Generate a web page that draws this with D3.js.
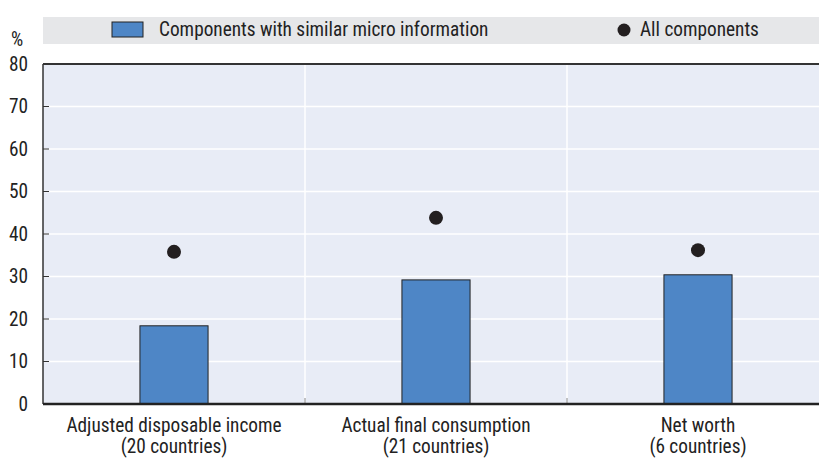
<!DOCTYPE html>
<html><head><meta charset="utf-8">
<script src="https://cdn.jsdelivr.net/npm/d3@7"></script>
<style>
body{margin:0;background:#fff;}
svg text{font-family:"Roboto Condensed","Liberation Sans",sans-serif;fill:#222;}
</style></head><body>
<svg id="c" width="819" height="458"></svg>
<script>
const categories = ["Adjusted disposable income", "Actual final consumption", "Net worth"];
const categorySub = ["(20 countries)", "(21 countries)", "(6 countries)"];
const similarMicro = [18.4, 29.2, 30.4];
const allComponents = [35.8, 43.8, 36.2];
const yTicks = [0, 10, 20, 30, 40, 50, 60, 70, 80];
const seriesNames = ["Components with similar micro information", "All components"];

const FS = 19.3;
const svg = d3.select("#c");
const m = {left: 43, right: 829, top: 64, bottom: 404};
const x = d3.scaleBand().domain(categories).range([m.left, m.right]);
const y = d3.scaleLinear().domain([0, 80]).range([m.bottom, m.top]);

// plot background
svg.append("rect").attr("x", m.left).attr("y", m.top).attr("width", m.right - m.left).attr("height", m.bottom - m.top).attr("fill", "#e8ecf6");
// horizontal gridlines
svg.append("g").selectAll("line").data(yTicks.filter(d => d > 0 && d < 80)).join("line")
  .attr("x1", m.left).attr("x2", m.right).attr("y1", d => y(d)).attr("y2", d => y(d))
  .attr("stroke", "#fff").attr("stroke-width", 1.5);
// vertical separators
svg.append("g").selectAll("line").data(categories.slice(1)).join("line")
  .attr("x1", d => x(d)).attr("x2", d => x(d)).attr("y1", m.top).attr("y2", m.bottom)
  .attr("stroke", "#fff").attr("stroke-width", 1.5);
// x separator ticks
svg.append("g").selectAll("line").data(categories.slice(1)).join("line")
  .attr("x1", d => x(d)).attr("x2", d => x(d)).attr("y1", m.bottom - 6).attr("y2", m.bottom)
  .attr("stroke", "#888").attr("stroke-width", 1);

// y axis
const yAxis = d3.axisLeft(y).tickValues(yTicks).tickSize(0).tickPadding(15);
const gy = svg.append("g").attr("transform", `translate(${m.left},0)`).call(yAxis);
gy.select(".domain").remove();
gy.selectAll("text").attr("font-size", FS).style("font-family", '"Roboto Condensed",sans-serif').attr("fill", "#222");
svg.append("g").selectAll("line").data(yTicks.filter(d => d > 0 && d < 80)).join("line")
  .attr("x1", m.left).attr("x2", m.left + 6).attr("y1", d => y(d)).attr("y2", d => y(d))
  .attr("stroke", "#333").attr("stroke-width", 1);

// bars
const bw = x.bandwidth() * 0.26;
svg.append("g").selectAll("rect").data(categories).join("rect")
  .attr("x", d => x(d) + x.bandwidth() / 2 - bw / 2)
  .attr("width", bw)
  .attr("y", (d, i) => y(similarMicro[i]))
  .attr("height", (d, i) => y(0) - y(similarMicro[i]))
  .attr("fill", "#4e86c6").attr("stroke", "#222").attr("stroke-width", 1);

// dots
svg.append("g").selectAll("circle").data(categories).join("circle")
  .attr("cx", d => x(d) + x.bandwidth() / 2)
  .attr("cy", (d, i) => y(allComponents[i]))
  .attr("r", 7).attr("fill", "#231f20");

// frame lines
svg.append("line").attr("x1", m.left).attr("x2", m.right).attr("y1", m.top).attr("y2", m.top).attr("stroke", "#333").attr("stroke-width", 2);
svg.append("line").attr("x1", m.left).attr("x2", m.left).attr("y1", m.top).attr("y2", m.bottom).attr("stroke", "#333").attr("stroke-width", 1.5);
svg.append("line").attr("x1", m.left).attr("x2", m.right).attr("y1", m.bottom).attr("y2", m.bottom).attr("stroke", "#222").attr("stroke-width", 2.5);

// x labels
const xl = svg.append("g");
categories.forEach((c, i) => {
  const cx = x(c) + x.bandwidth() / 2;
  xl.append("text").attr("x", cx).attr("y", 432).attr("text-anchor", "middle").attr("font-size", FS).text(c);
  xl.append("text").attr("x", cx).attr("y", 453).attr("text-anchor", "middle").attr("font-size", FS).text(categorySub[i]);
});

// y unit
svg.append("text").attr("x", 11).attr("y", 46).attr("font-size", FS).text("%");

// legend
svg.append("rect").attr("x", 43).attr("y", 17).attr("width", 786).attr("height", 27).attr("fill", "#e6e7e9");
svg.append("rect").attr("x", 112).attr("y", 22).attr("width", 31).attr("height", 15).attr("fill", "#4e86c6").attr("stroke", "#222").attr("stroke-width", 1);
svg.append("text").attr("x", 159).attr("y", 36).attr("font-size", FS).text(seriesNames[0]);
svg.append("circle").attr("cx", 624).attr("cy", 30).attr("r", 6.5).attr("fill", "#231f20");
svg.append("text").attr("x", 640).attr("y", 36).attr("font-size", FS).text(seriesNames[1]);
</script></body></html>
